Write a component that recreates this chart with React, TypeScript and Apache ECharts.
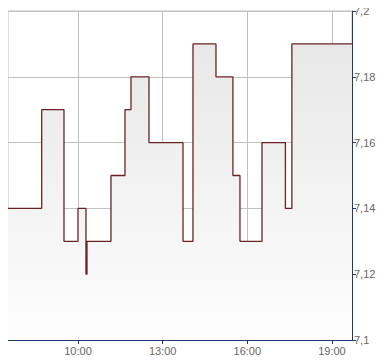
import React, { useEffect, useRef } from "react";
import * as echarts from "echarts";

// times in decimal hours, value from that time onward
const times = [7.52, 8.714, 9.504, 10.0, 10.283, 10.319, 11.169, 11.665, 11.878, 12.516, 13.721, 14.075, 14.89, 15.49, 15.74, 16.52, 17.35, 17.58, 19.71];
const prices = [7.14, 7.17, 7.13, 7.14, 7.12, 7.13, 7.15, 7.17, 7.18, 7.16, 7.13, 7.19, 7.18, 7.15, 7.13, 7.16, 7.14, 7.19, 7.19];
const xTicks = [10, 13, 16, 19];
const xMin = 7.52;
const xMax = 19.71;
const yTicks = [7.1, 7.12, 7.14, 7.16, 7.18, 7.2];

export default function App() {
  const ref = useRef<HTMLDivElement>(null);
  useEffect(() => {
    if (!ref.current) return;
    const chart = echarts.init(ref.current, undefined, { renderer: "svg" });
    const data = times.map((t, i) => [t, prices[i]]);
    chart.setOption({
      animation: false,
      grid: {
        left: 8,
        right: 38,
        top: 11,
        bottom: 24,
        show: true,
        borderColor: "#c0c0c0",
        borderWidth: 1,
        backgroundColor: "transparent",
      },
      xAxis: {
        type: "value",
        min: xMin,
        max: xMax,
        axisLine: { show: true, lineStyle: { color: "#1d3b6b", width: 1 } },
        axisTick: { show: true, length: 4, customValues: xTicks, lineStyle: { color: "#1d3b6b" } },
        axisLabel: {
          customValues: xTicks,
          color: "#666",
          fontSize: 11,
          fontFamily: "Liberation Sans, Arial",
          margin: 5,
          formatter: (v: number) => `${Math.round(v)}:00`,
        },
        splitLine: { show: true, lineStyle: { color: "#c0c0c0", width: 1 } },
      },
      yAxis: {
        type: "value",
        position: "right",
        min: 7.1,
        max: 7.2,
        interval: 0.02,
        axisLine: { show: true, lineStyle: { color: "#1d3b6b", width: 1 } },
        axisTick: { show: true, length: 4, lineStyle: { color: "#1d3b6b" } },
        axisLabel: {
          color: "#666",
          fontSize: 11,
          fontFamily: "Liberation Sans, Arial",
          margin: 2,
          formatter: (v: number) => {
            const t = yTicks.find((y) => Math.abs(y - v) < 1e-6) ?? v;
            return String(parseFloat(t.toFixed(2))).replace(".", ",");
          },
        },
        splitLine: { show: true, lineStyle: { color: "#c0c0c0", width: 1 } },
      },
      series: [
        {
          type: "line",
          step: "end",
          data,
          symbol: "none",
          lineStyle: { color: "#6b2226", width: 1.3 },
          areaStyle: {
            color: new echarts.graphic.LinearGradient(0, 0, 0, 1, [
              { offset: 0, color: "#e8e8e8" },
              { offset: 1, color: "#fdfdfd" },
            ]),
            opacity: 1,
          },
        },
      ],
    });
    return () => chart.dispose();
  }, []);
  return <div ref={ref} style={{ width: 390, height: 364, margin: -8 }} />;
}
